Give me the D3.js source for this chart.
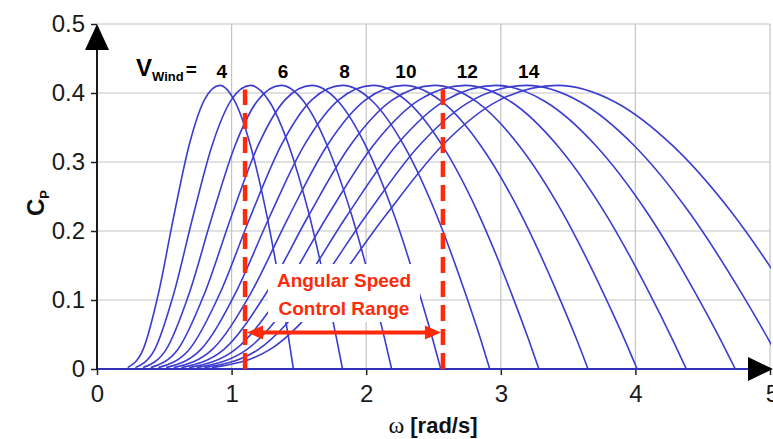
<!DOCTYPE html>
<html>
<head>
<meta charset="utf-8">
<script src="https://cdn.jsdelivr.net/npm/d3@7"></script>
<style>
  body { margin: 0; background: #fff; }
  svg { display: block; font-family: "Liberation Sans", Arial, sans-serif; }
</style>
</head>
<body>
<svg id="chart" width="773" height="439"></svg>
<script>
// Power coefficient Cp against rotor angular speed, one curve per wind speed (m/s)
const windSpeeds = [4, 5, 6, 7, 8, 9, 10, 11, 12, 13, 14, 15];
const labelledSpeeds = [4, 6, 8, 10, 12, 14];

// Cp levels (same sequence of points on each curve)
const cpPoints = [0.002, 0.028, 0.109, 0.221, 0.324, 0.390, 0.411, 0.387, 0.324, 0.230, 0.110, 0.043, 0];

// Angular speed (rad/s) of those points, per wind speed
const w04 = [0.228, 0.342, 0.456, 0.570, 0.684, 0.798, 0.912, 1.026, 1.140, 1.254, 1.368, 1.425, 1.459];
const w05 = [0.285, 0.428, 0.570, 0.713, 0.855, 0.998, 1.140, 1.283, 1.425, 1.568, 1.710, 1.781, 1.824];
const w06 = [0.342, 0.513, 0.684, 0.855, 1.026, 1.197, 1.368, 1.539, 1.710, 1.881, 2.052, 2.138, 2.189];
const w07 = [0.399, 0.599, 0.798, 0.998, 1.197, 1.397, 1.596, 1.796, 1.995, 2.195, 2.394, 2.494, 2.554];
const w08 = [0.456, 0.684, 0.912, 1.140, 1.368, 1.596, 1.824, 2.052, 2.280, 2.508, 2.736, 2.850, 2.918];
const w09 = [0.513, 0.770, 1.026, 1.283, 1.539, 1.796, 2.052, 2.309, 2.565, 2.822, 3.078, 3.206, 3.283];
const w10 = [0.570, 0.855, 1.140, 1.425, 1.710, 1.995, 2.280, 2.565, 2.850, 3.135, 3.420, 3.563, 3.648];
const w11 = [0.627, 0.941, 1.254, 1.568, 1.881, 2.195, 2.508, 2.822, 3.135, 3.449, 3.762, 3.919, 4.013];
const w12 = [0.684, 1.026, 1.368, 1.710, 2.052, 2.394, 2.736, 3.078, 3.420, 3.762, 4.104, 4.275, 4.378];
const w13 = [0.741, 1.112, 1.482, 1.853, 2.223, 2.594, 2.964, 3.335, 3.705, 4.076, 4.446, 4.631, 4.742];
const w14 = [0.798, 1.197, 1.596, 1.995, 2.394, 2.793, 3.192, 3.591, 3.990, 4.389, 4.788, 4.988, 5.107];
const w15 = [0.855, 1.283, 1.710, 2.138, 2.565, 2.993, 3.420, 3.848, 4.275, 4.703, 5.130, 5.344, 5.472];
const omegaBySpeed = [w04, w05, w06, w07, w08, w09, w10, w11, w12, w13, w14, w15];

const xTicks = [0, 1, 2, 3, 4, 5];
const yTicks = [0, 0.1, 0.2, 0.3, 0.4, 0.5];
const controlRange = [1.1, 2.57];
const controlTop = 0.405;
const arrowLevel = 0.053;

const svg = d3.select("#chart");
const x = d3.scaleLinear().domain([0, 5]).range([97, 770]);
const y = d3.scaleLinear().domain([0, 0.5]).range([369, 24]);

const curveBlue = "#3c3cd0";
const red = "#ff2a0a";

// grid
const grid = svg.append("g");
grid.selectAll("line.h").data(yTicks.slice(1)).join("line")
  .attr("x1", x(0)).attr("x2", x(5))
  .attr("y1", d => y(d)).attr("y2", d => y(d))
  .attr("stroke", "#c4c4c4").attr("stroke-width", 1.2);
grid.selectAll("line.v").data(xTicks.slice(1)).join("line")
  .attr("x1", d => x(d)).attr("x2", d => x(d))
  .attr("y1", y(0)).attr("y2", y(0.5))
  .attr("stroke", "#c4c4c4").attr("stroke-width", 1.2);

// axes
const yAxis = d3.axisLeft(y).tickValues(yTicks).tickFormat(d => d === 0 ? "0" : d3.format(".1f")(d)).tickSize(6).tickPadding(6);
const xAxis = d3.axisBottom(x).tickValues(xTicks).tickFormat(d3.format("d")).tickSize(6).tickPadding(10);
const gy = svg.append("g").attr("transform", `translate(${x(0)},0)`).call(yAxis);
const gx = svg.append("g").attr("transform", `translate(0,${y(0)})`).call(xAxis);
[gy, gx].forEach(g => {
  g.select(".domain").remove();
  g.selectAll(".tick line").attr("stroke", "#222").attr("stroke-width", 1.5);
  g.selectAll(".tick text").attr("font-size", 24).attr("fill", "#1a1a1a")
    .attr("font-family", "'Liberation Sans', Arial, sans-serif");
});
gx.select(".tick:last-of-type text").attr("dx", 2);

// clip for curves
svg.append("clipPath").attr("id", "plotClip").append("rect")
  .attr("x", x(0)).attr("y", 0).attr("width", x(5) - x(0) + 1).attr("height", y(0) + 2);

const line = d3.line()
  .x(d => x(d[0])).y(d => y(d[1]))
  .curve(d3.curveMonotoneX);

const series = windSpeeds.map((v, i) => ({
  v, pts: omegaBySpeed[i].map((w, j) => [w, cpPoints[j]])
}));

const curves = svg.append("g").attr("clip-path", "url(#plotClip)");
// zero level shared by all curves
curves.append("path")
  .attr("d", line([[0, 0], [5, 0]]))
  .attr("stroke", "#3030b8").attr("stroke-width", 2.2).attr("fill", "none");
curves.selectAll("path.cp").data(series).join("path")
  .attr("class", "cp")
  .attr("d", d => line(d.pts))
  .attr("fill", "none").attr("stroke", curveBlue).attr("stroke-width", 1.6);

// axis lines with arrow heads
svg.append("line").attr("x1", x(0)).attr("x2", x(0)).attr("y1", y(0) + 1).attr("y2", 40)
  .attr("stroke", "#1a1a1a").attr("stroke-width", 2);
svg.append("path")
  .attr("d", `M${x(0)},${y(0.5)} L${x(0) - 12},${y(0.5) + 26} L${x(0) + 12},${y(0.5) + 26} Z`)
  .attr("fill", "#000");
svg.append("path")
  .attr("d", `M${x(5) + 3},${y(0)} L${x(5) - 22},${y(0) - 12} L${x(5) - 22},${y(0) + 12} Z`)
  .attr("fill", "#000");

// wind speed labels over the curve peaks
const peakIndex = cpPoints.indexOf(d3.max(cpPoints));
const lbl = svg.append("g").attr("font-weight", "bold").attr("fill", "#000");
lbl.selectAll("text").data(series.filter(s => labelledSpeeds.includes(s.v))).join("text")
  .attr("x", d => x(d.pts[peakIndex][0]) + 2)
  .attr("y", 78)
  .attr("text-anchor", "middle")
  .attr("font-size", 19)
  .text(d => d.v);
const vw = lbl.append("text").attr("x", 136).attr("y", 76);
vw.append("tspan").attr("font-size", 24).text("V");
vw.append("tspan").attr("font-size", 13).attr("dy", 5).text("Wind");
vw.append("tspan").attr("font-size", 19).attr("dy", -5).attr("dx", 2).text("=");

// control range markers
const ctl = svg.append("g");
const cx = (x(controlRange[0]) + x(controlRange[1])) / 2;
// white panel behind the range caption
ctl.append("rect").attr("x", cx - 76).attr("y", 264).attr("width", 152).attr("height", 58)
  .attr("fill", "#fff");
ctl.selectAll("line.dash").data(controlRange).join("line")
  .attr("class", "dash")
  .attr("x1", d => x(d)).attr("x2", d => x(d))
  .attr("y1", y(0)).attr("y2", y(controlTop))
  .attr("stroke", red).attr("stroke-width", 4.5)
  .attr("stroke-dasharray", "16,8");
const ay = y(arrowLevel);
const xa = x(controlRange[0]) + 2, xb = x(controlRange[1]) - 2;
ctl.append("line").attr("x1", xa + 12).attr("x2", xb - 12).attr("y1", ay).attr("y2", ay)
  .attr("stroke", red).attr("stroke-width", 4);
ctl.append("path").attr("d", `M${xa},${ay} L${xa + 16},${ay - 7} L${xa + 16},${ay + 7} Z`).attr("fill", red);
ctl.append("path").attr("d", `M${xb},${ay} L${xb - 16},${ay - 7} L${xb - 16},${ay + 7} Z`).attr("fill", red);
ctl.append("text").attr("x", cx).attr("y", 287).attr("text-anchor", "middle")
  .attr("font-size", 19).attr("font-weight", "bold").attr("fill", red).text("Angular Speed");
ctl.append("text").attr("x", cx).attr("y", 315).attr("text-anchor", "middle")
  .attr("font-size", 19).attr("font-weight", "bold").attr("fill", red).text("Control Range");

// axis titles
const xt = svg.append("text").attr("x", 433).attr("y", 433).attr("text-anchor", "middle").attr("fill", "#111");
xt.append("tspan").attr("font-family", "'Liberation Serif', 'Times New Roman', serif").attr("font-size", 24).text("ω ");
xt.append("tspan").attr("font-size", 22).attr("font-weight", "bold").text("[rad/s]");

const yt = svg.append("text").attr("transform", "translate(44,216) rotate(-90)").attr("fill", "#111").attr("font-weight", "bold");
yt.append("tspan").attr("font-size", 24).text("C");
yt.append("tspan").attr("font-size", 13).attr("dy", 5).text("P");
</script>
</body>
</html>
